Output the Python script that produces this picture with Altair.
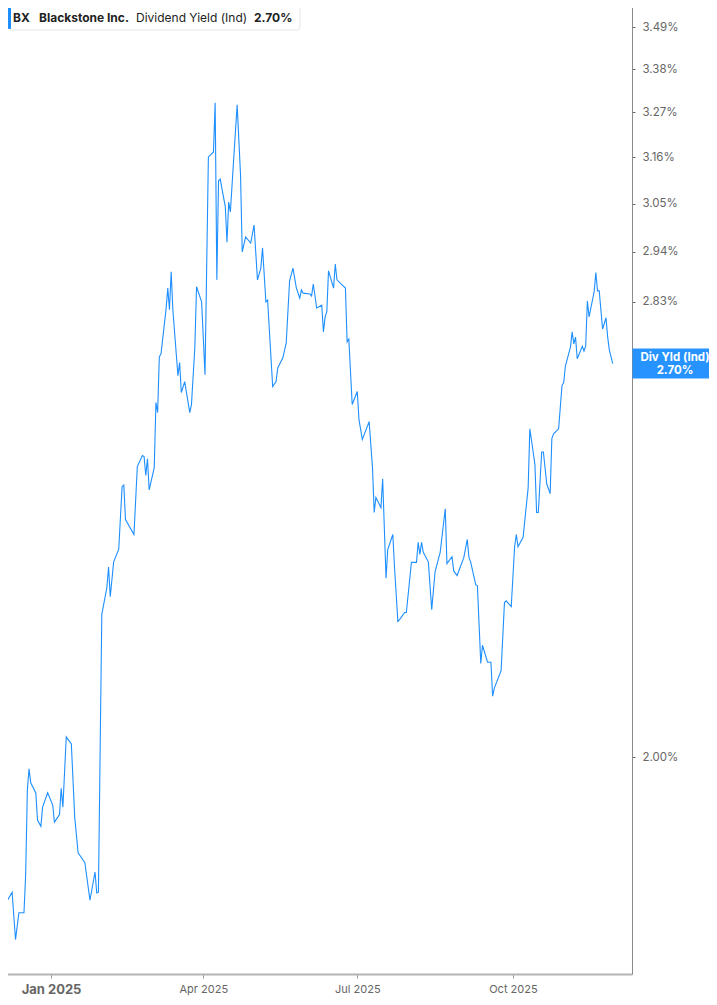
import altair as alt
import pandas as pd

# Trading dates (sampled vertices of the series)
dates = [
    "2024-12-02", "2024-12-04", "2024-12-05", "2024-12-09", "2024-12-11", "2024-12-13",
    "2024-12-16", "2024-12-17", "2024-12-18", "2024-12-19", "2024-12-20", "2024-12-23",
    "2024-12-24", "2024-12-26", "2024-12-27", "2024-12-30",
    "2025-01-02", "2025-01-03", "2025-01-06", "2025-01-07", "2025-01-08", "2025-01-10",
    "2025-01-13", "2025-01-15", "2025-01-17", "2025-01-21", "2025-01-24", "2025-01-27",
    "2025-01-28", "2025-01-29", "2025-01-31",
    "2025-02-03", "2025-02-04", "2025-02-05", "2025-02-07", "2025-02-10", "2025-02-12",
    "2025-02-13", "2025-02-14", "2025-02-19", "2025-02-21", "2025-02-24", "2025-02-25",
    "2025-02-26", "2025-02-27", "2025-02-28",
    "2025-03-03", "2025-03-04", "2025-03-05", "2025-03-06", "2025-03-07", "2025-03-10",
    "2025-03-11", "2025-03-12", "2025-03-13", "2025-03-14", "2025-03-17", "2025-03-18",
    "2025-03-19", "2025-03-21", "2025-03-24", "2025-03-25", "2025-03-27", "2025-03-28",
    "2025-03-31",
    "2025-04-02", "2025-04-04", "2025-04-07", "2025-04-08", "2025-04-09", "2025-04-10",
    "2025-04-11", "2025-04-14", "2025-04-15", "2025-04-16", "2025-04-17", "2025-04-19",
    "2025-04-21", "2025-04-23", "2025-04-24", "2025-04-26", "2025-04-29",
    "2025-05-01", "2025-05-03", "2025-05-05", "2025-05-06", "2025-05-08", "2025-05-09",
    "2025-05-12", "2025-05-14", "2025-05-15", "2025-05-18", "2025-05-20", "2025-05-22",
    "2025-05-24", "2025-05-26", "2025-05-28", "2025-05-29", "2025-05-30",
    "2025-06-03", "2025-06-04", "2025-06-05", "2025-06-07", "2025-06-10", "2025-06-11",
    "2025-06-12", "2025-06-13", "2025-06-14", "2025-06-17", "2025-06-18", "2025-06-19",
    "2025-06-22", "2025-06-24", "2025-06-25", "2025-06-26", "2025-06-28",
    "2025-07-01", "2025-07-02", "2025-07-04", "2025-07-08", "2025-07-10", "2025-07-11",
    "2025-07-12", "2025-07-15", "2025-07-16", "2025-07-18", "2025-07-19", "2025-07-22",
    "2025-07-23", "2025-07-25", "2025-07-26", "2025-07-29", "2025-07-30",
    "2025-08-02", "2025-08-05", "2025-08-06", "2025-08-07", "2025-08-08", "2025-08-09",
    "2025-08-12", "2025-08-14", "2025-08-16", "2025-08-19", "2025-08-22", "2025-08-23",
    "2025-08-26", "2025-08-27", "2025-08-29",
    "2025-09-02", "2025-09-04", "2025-09-05", "2025-09-06", "2025-09-09", "2025-09-10",
    "2025-09-12", "2025-09-13", "2025-09-16", "2025-09-18", "2025-09-19", "2025-09-20",
    "2025-09-24", "2025-09-26", "2025-09-27", "2025-09-30",
    "2025-10-02", "2025-10-03", "2025-10-04", "2025-10-07", "2025-10-10", "2025-10-11",
    "2025-10-14", "2025-10-15", "2025-10-16", "2025-10-18", "2025-10-19", "2025-10-21",
    "2025-10-23", "2025-10-24", "2025-10-25", "2025-10-28", "2025-10-30", "2025-10-31",
    "2025-11-01", "2025-11-04", "2025-11-05", "2025-11-06", "2025-11-07", "2025-11-08",
    "2025-11-11", "2025-11-12", "2025-11-13", "2025-11-14", "2025-11-15", "2025-11-18",
    "2025-11-19", "2025-11-20", "2025-11-21", "2025-11-23", "2025-11-25", "2025-11-26",
    "2025-11-27", "2025-11-29",
]

# Dividend yield (%)
div_yield = [
    1.789, 1.803, 1.788, 1.804, 1.740, 1.776, 1.776, 1.828, 1.950, 1.982, 1.961, 1.946,
    1.906, 1.897, 1.925, 1.946,
    1.928, 1.903, 1.914, 1.953, 1.925, 2.031, 2.020, 1.910, 1.859, 1.845, 1.793, 1.832,
    1.803, 1.804, 2.230,
    2.276, 2.312, 2.260, 2.321, 2.343, 2.458, 2.461, 2.397, 2.370, 2.496, 2.517, 2.515,
    2.479, 2.511, 2.452,
    2.494, 2.621, 2.601, 2.714, 2.720, 2.815, 2.860, 2.813, 2.896, 2.813, 2.675, 2.702,
    2.641, 2.663, 2.601, 2.617, 2.734, 2.863, 2.830,
    2.677, 3.161, 3.173, 3.294, 2.878, 3.104, 3.108, 3.043, 2.962, 3.054, 3.031, 3.159,
    3.289, 3.118, 2.940, 2.974, 2.960,
    3.001, 2.878, 2.904, 2.949, 2.830, 2.834, 2.653, 2.663, 2.691, 2.712, 2.743, 2.876,
    2.904, 2.860, 2.838, 2.856, 2.849,
    2.847, 2.843, 2.869, 2.817, 2.823, 2.766, 2.798, 2.809, 2.898, 2.860, 2.913, 2.878,
    2.867, 2.860, 2.745, 2.751, 2.617,
    2.643, 2.587, 2.548, 2.583, 2.494, 2.410, 2.438, 2.419, 2.473, 2.292, 2.343, 2.370,
    2.312, 2.218, 2.221, 2.233, 2.233,
    2.320, 2.320, 2.356, 2.334, 2.356, 2.338, 2.321, 2.238, 2.304, 2.338, 2.417, 2.318,
    2.330, 2.305, 2.297,
    2.329, 2.361, 2.329, 2.321, 2.281, 2.279, 2.148, 2.178, 2.150, 2.150, 2.095, 2.108,
    2.136, 2.250, 2.253, 2.243,
    2.348, 2.370, 2.348, 2.365, 2.456, 2.569, 2.500, 2.410, 2.410, 2.524, 2.524, 2.463,
    2.445, 2.550, 2.559, 2.569, 2.655, 2.661,
    2.695, 2.734, 2.766, 2.741, 2.755, 2.710, 2.736, 2.726, 2.736, 2.832, 2.798, 2.852,
    2.894, 2.854, 2.854, 2.772, 2.796, 2.755, 2.728, 2.700,
]

y_ticks = [2.00, 2.72, 2.83, 2.94, 3.05, 3.16, 3.27, 3.38, 3.49]
hidden_tick = 2.72  # sits under the last-value tag
x_ticks = [(2025, 1), (2025, 4), (2025, 7), (2025, 10)]

ticker = "BX"
company = "Blackstone Inc."
metric = "Dividend Yield (Ind)"
short_metric = "Div Yld (Ind)"

BLUE = "#1E8FFF"
FONT = "Inter"

df = pd.DataFrame({"date": dates, "yld": div_yield})
last = df.tail(1)
last_label = f"{div_yield[-1]:.2f}%"

x_scale = alt.Scale(
    type="utc",
    domain=[
        alt.DateTime(year=2024, month=12, date=1, hours=20, utc=True),
        alt.DateTime(year=2025, month=12, date=10, hours=9, utc=True),
    ],
)
y_scale = alt.Scale(type="log", domain=[1.6949, 3.5629], nice=False, zero=False)

x_axis = alt.Axis(
    values=[alt.DateTime(year=y, month=m, date=1, utc=True) for y, m in x_ticks],
    labelExpr="utcFormat(datum.value, '%b %Y')",
    grid=False,
    title=None,
    domainColor="#b4b4b4",
    domainWidth=2,
    tickColor="#9a9a9a",
    tickSize=4,
    tickWidth=1,
    labelColor="#666666",
    labelFont=FONT,
    labelFontSize={"condition": {"test": "utcmonth(datum.value) === 0", "value": 13}, "value": 11},
    labelFontWeight={"condition": {"test": "utcmonth(datum.value) === 0", "value": "bold"}, "value": "normal"},
    labelPadding=5,
)
y_axis = alt.Axis(
    orient="right",
    values=y_ticks,
    labelExpr=f"abs(datum.value - {hidden_tick}) < 0.001 ? '' : format(datum.value, '.2f') + '%'",
    grid=False,
    title=None,
    domainColor="#8a8a8a",
    domainWidth=1,
    tickColor="#666666",
    tickSize=3,
    labelColor="#666666",
    labelFont=FONT,
    labelFontSize=11.5,
    labelPadding=7,
    zindex=0,
)

base = alt.Chart(df)

line = base.mark_line(color=BLUE, strokeWidth=1.1, clip=True).encode(
    x=alt.X("date:T", scale=x_scale, axis=x_axis),
    y=alt.Y("yld:Q", scale=y_scale, axis=y_axis),
)

# last-value tag on the right axis
tag_box = alt.Chart(last).mark_point(
    shape="M-1,-0.353L1,-0.353L1,0.353L-1,0.353Z",
    filled=True,
    size=7225,
    color=BLUE,
    opacity=0.96,
    strokeWidth=0,
).encode(x=alt.value(675), y=alt.Y("yld:Q", scale=y_scale))
tag_t1 = alt.Chart(last).mark_text(
    font=FONT, fontSize=11.5, fontWeight="bold", color="white", align="center", baseline="middle", dy=-6
).encode(x=alt.value(675), y=alt.Y("yld:Q", scale=y_scale), text=alt.value(short_metric))
tag_t2 = alt.Chart(last).mark_text(
    font=FONT, fontSize=11.5, fontWeight="bold", color="white", align="center", baseline="middle", dy=7
).encode(x=alt.value(675), y=alt.Y("yld:Q", scale=y_scale), text=alt.value(last_label))

# legend box in the top-left corner
one = pd.DataFrame({"a": [0]})
leg_box = alt.Chart(one).mark_rect(
    fill="white", stroke="#e4e4e4", strokeWidth=1, cornerRadius=3
).encode(x=alt.value(8.5), x2=alt.value(300), y=alt.value(5), y2=alt.value(30))
leg_bar = alt.Chart(one).mark_rect(fill=BLUE, cornerRadius=1).encode(
    x=alt.value(8), x2=alt.value(11), y=alt.value(6), y2=alt.value(29)
)


def leg_text(txt, xpos, weight):
    return alt.Chart(one).mark_text(
        font=FONT, fontSize=12, fontWeight=weight, color="#222222", align="left", baseline="middle"
    ).encode(x=alt.value(xpos), y=alt.value(17.5), text=alt.value(txt))


legend = (
    leg_box
    + leg_bar
    + leg_text(ticker, 13, "bold")
    + leg_text(company, 39, "bold")
    + leg_text(metric, 136, "normal")
    + leg_text(last_label, 254, "bold")
)

chart = (
    alt.layer(line, tag_box, tag_t1, tag_t2, legend)
    .properties(
        width=632,
        height=974,
        autosize="none",
        padding={"left": -8, "top": -8, "right": 77, "bottom": 22},
    )
    .configure_view(stroke=None)
    .configure(background="white")
)

chart.save("out.html", embed_options={"renderer": "svg", "actions": False})
